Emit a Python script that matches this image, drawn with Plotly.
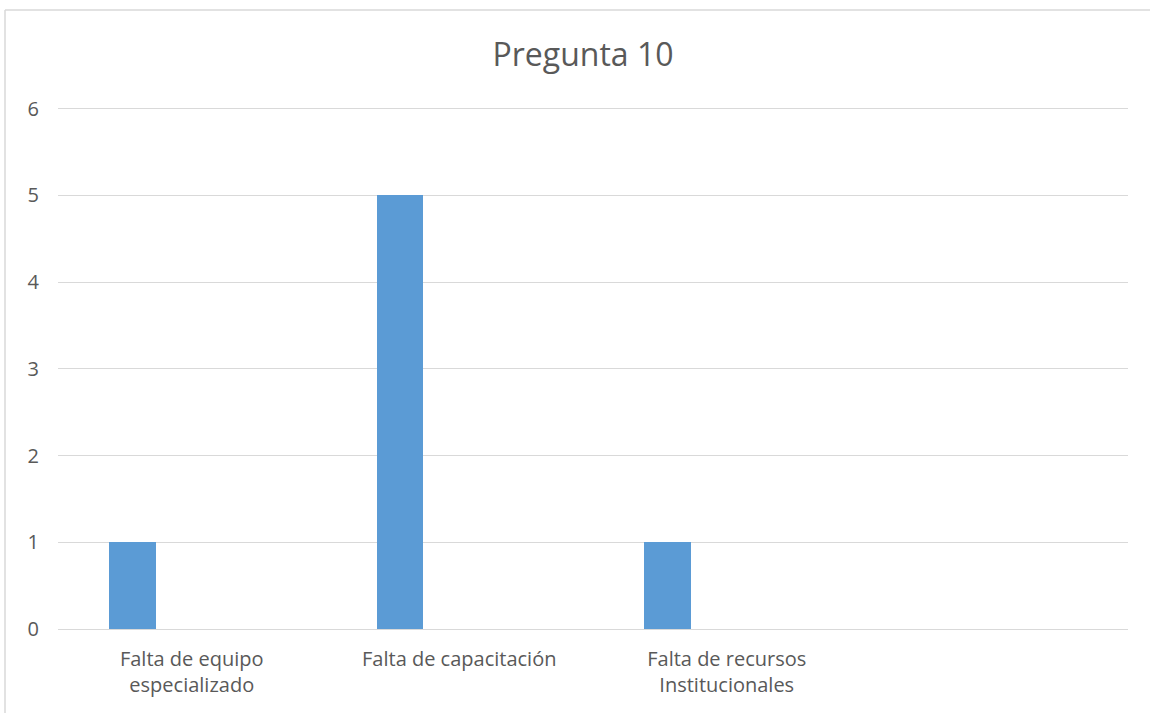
import plotly.graph_objects as go

categories = ["Falta de equipo<br>especializado", "Falta de capacitación", "Falta de recursos<br>Institucionales"]
values = [1, 5, 1]
y_ticks = [0, 1, 2, 3, 4, 5, 6]
y_max = 6.02

W, H = 1150, 713
L, T = 58, 107
PR, PB = 1128, 629
R, B = W - PR, H - PB
pw = PR - L
ph = PB - T


def px(x):
    return (x - L) / pw


def py(y):
    return (PB - y) / ph


fig = go.Figure()
fig.add_trace(go.Bar(
    x=categories, y=values,
    marker=dict(color="#5b9bd5", line=dict(width=0)),
    width=0.173, offset=-0.308,
))

fig.update_layout(
    width=W, height=H,
    margin=dict(l=L, r=R, t=T, b=B),
    paper_bgcolor="white", plot_bgcolor="white",
    font=dict(family="Open Sans, Liberation Sans, sans-serif", color="#595959", size=21),
    title=dict(text="Pregunta 10", x=583 / W, xref="container", xanchor="center",
               y=1 - 55 / H, yref="container", yanchor="middle",
               font=dict(size=32, color="#595959")),
    showlegend=False,
    bargap=0,
    xaxis=dict(
        type="category", categoryorder="array", categoryarray=categories,
        range=[-0.5, 3.5], showgrid=False, showline=True, linecolor="#d9d9d9",
        linewidth=1, ticks="", tickfont=dict(size=20, color="#595959"),
        ticklabelstandoff=12,
    ),
    yaxis=dict(
        range=[0, y_max], tickvals=y_ticks, showgrid=True, gridcolor="#d9d9d9",
        gridwidth=1, zeroline=False, showline=False, ticks="",
        tickfont=dict(size=20, color="#595959"), ticklabelstandoff=18,
    ),
    shapes=[
        dict(type="line", xref="paper", yref="paper",
             x0=px(5), x1=px(5), y0=py(10), y1=py(713),
             line=dict(color="#d9d9d9", width=1.5)),
        dict(type="line", xref="paper", yref="paper",
             x0=px(5), x1=px(1150), y0=py(10), y1=py(10),
             line=dict(color="#d9d9d9", width=1.5)),
    ],
)

fig.write_html("out.html", config={"displayModeBar": False},
               post_script="document.body.style.margin='0';document.body.style.overflow='hidden';")
